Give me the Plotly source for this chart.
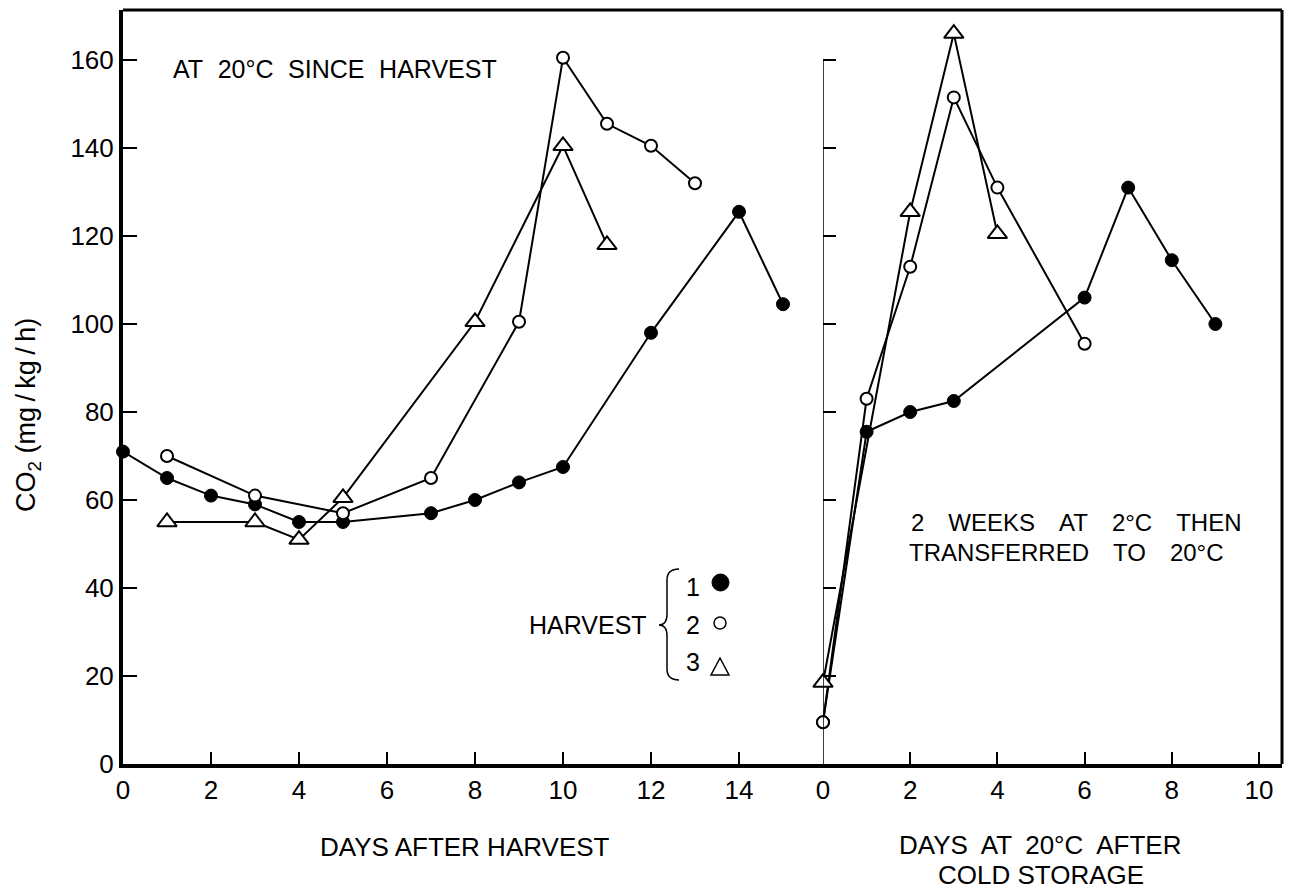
import plotly.graph_objects as go

# ---------------- data ----------------
# Left panel: days after harvest, held at 20 °C
h1_days = [0, 1, 2, 3, 4, 5, 7, 8, 9, 10, 12, 14, 15]
h1_co2 = [71, 65, 61, 59, 55, 55, 57, 60, 64, 67.5, 98, 125.5, 104.5]
h2_days = [1, 3, 5, 7, 9, 10, 11, 12, 13]
h2_co2 = [70, 61, 57, 65, 100.5, 160.5, 145.5, 140.5, 132]
h3_days = [1, 3, 4, 5, 8, 10, 11]
h3_co2 = [55, 55, 51, 60.5, 100.5, 140.5, 118]

# Right panel: days at 20 °C after 2 weeks at 2 °C
c1_days = [0, 1, 2, 3, 6, 7, 8, 9]
c1_co2 = [9.5, 75.5, 80, 82.5, 106, 131, 114.5, 100]
c2_days = [0, 1, 2, 3, 4, 6]
c2_co2 = [9.5, 83, 113, 151.5, 131, 95.5]
c3_days = [0, 2, 3, 4]
c3_co2 = [18.5, 125.5, 166, 120.5]

left_ticks = [0, 2, 4, 6, 8, 10, 12, 14]
right_ticks = [0, 2, 4, 6, 8, 10]
y_ticks = [0, 20, 40, 60, 80, 100, 120, 140, 160]
harvest_labels = ["1", "2", "3"]

FONT = "Liberation Sans, Arial, Helvetica, sans-serif"
W, H = 1291, 892
ML, MR, MT, MB = 123, 9, 10, 128
PW, PH = W - ML - MR, H - MT - MB


def px(xp):
    return (xp - ML) / PW


def py(yp):
    return (H - MB - yp) / PH


split = px(823)

fig = go.Figure()

filled = dict(symbol="circle", size=13, color="black", line=dict(color="black", width=1))
opencirc = dict(symbol="circle", size=12, color="white", line=dict(color="black", width=2))
tri = dict(symbol="triangle-up", size=17, color="white", line=dict(color="black", width=2))
ln = dict(color="black", width=2)

for xs, ys, mk, xa, ya in [
    (h1_days, h1_co2, filled, "x", "y"),
    (h2_days, h2_co2, opencirc, "x", "y"),
    (h3_days, h3_co2, tri, "x", "y"),
    (c1_days, c1_co2, filled, "x2", "y2"),
    (c2_days, c2_co2, opencirc, "x2", "y2"),
    (c3_days, c3_co2, tri, "x2", "y2"),
]:
    fig.add_trace(go.Scatter(x=xs, y=ys, mode="lines+markers", line=ln, marker=mk,
                             xaxis=xa, yaxis=ya, showlegend=False, cliponaxis=False))

axis_common = dict(ticks="inside", tickcolor="black", tickwidth=2, showgrid=False,
                   zeroline=False, tickfont=dict(family=FONT, size=26, color="black"))

fig.update_layout(
    width=W, height=H,
    margin=dict(l=ML, r=MR, t=MT, b=MB),
    paper_bgcolor="white", plot_bgcolor="white",
    font=dict(family=FONT, color="black"),
    xaxis=dict(domain=[0, split], range=[0, 700 / 44], tickvals=left_ticks, ticklen=12,
               showline=True, linecolor="black", linewidth=4, anchor="y", **axis_common),
    yaxis=dict(domain=[0, 1], range=[0, 754 / 4.4], tickvals=y_ticks, ticklen=14,
               showline=True, linecolor="black", linewidth=4, anchor="x", **axis_common),
    xaxis2=dict(domain=[split, 1], range=[0, 459 / 43.6], tickvals=right_ticks, ticklen=12,
                showline=True, linecolor="black", linewidth=4, anchor="y2", **axis_common),
    yaxis2=dict(domain=[0, 1], range=[0, 754 / 4.4], tickvals=y_ticks[1:], ticklen=13,
                showticklabels=False, showline=False, anchor="x2", **axis_common),
)

shapes = [
    dict(type="line", xref="paper", yref="paper", x0=0, x1=1, y0=1, y1=1,
         line=dict(color="black", width=3)),
    dict(type="line", xref="paper", yref="paper", x0=1, x1=1, y0=0, y1=1,
         line=dict(color="black", width=3)),
    dict(type="line", xref="x2", yref="y2", x0=0, x1=0, y0=0, y1=160,
         line=dict(color="black", width=1.5)),
]

# legend key: brace + symbols
bp = [(679, 569), (667, 569), (667, 580), (667, 614), (667, 625), (659, 625),
      (667, 625), (667, 636), (667, 669), (667, 680), (679, 680)]
c = [(px(a), py(b)) for a, b in bp]
path = ("M {0[0]},{0[1]} Q {1[0]},{1[1]} {2[0]},{2[1]} L {3[0]},{3[1]} "
        "Q {4[0]},{4[1]} {5[0]},{5[1]} Q {6[0]},{6[1]} {7[0]},{7[1]} L {8[0]},{8[1]} "
        "Q {9[0]},{9[1]} {10[0]},{10[1]}").format(*c)
shapes.append(dict(type="path", xref="paper", yref="paper", path=path,
                   line=dict(color="black", width=1.5)))
shapes.append(dict(type="circle", xref="paper", yref="paper",
                   x0=px(712), x1=px(729), y0=py(574), y1=py(591),
                   fillcolor="black", line=dict(color="black", width=1)))
shapes.append(dict(type="circle", xref="paper", yref="paper",
                   x0=px(714), x1=px(726), y0=py(617), y1=py(629),
                   fillcolor="white", line=dict(color="black", width=1.5)))
tp = [(720, 658), (711, 675), (729, 675)]
tc = [(px(a), py(b)) for a, b in tp]
shapes.append(dict(type="path", xref="paper", yref="paper",
                   path="M {0[0]},{0[1]} L {1[0]},{1[1]} L {2[0]},{2[1]} Z".format(*tc),
                   fillcolor="white", line=dict(color="black", width=1.5)))
fig.update_layout(shapes=shapes)

EN = "\u2002"
EM = "\u2003"
GAP = "\u2002\u200a"
ann = []


def A(text, x, y, xanchor="center", size=25, **kw):
    ann.append(dict(text=text, x=px(x), y=py(y), xref="paper", yref="paper",
                    xanchor=xanchor, yanchor="middle", showarrow=False,
                    font=dict(family=FONT, size=size, color="black"), **kw))


A(GAP.join(["AT", "20°C", "SINCE", "HARVEST"]), 171, 69, xanchor="left")
A(EM.join(["2", "WEEKS", "AT", "2°C", "THEN"]), 909, 522, xanchor="left", size=24)
A(EM.join(["TRANSFERRED", "TO", "20°C"]), 907, 552, xanchor="left", size=24)
A("HARVEST", 649, 625, xanchor="right")
for lab, yy in zip(harvest_labels, [587, 625, 662]):
    A(lab, 693, yy)
A("DAYS AFTER HARVEST", 465, 847, size=26)
A(EN.join(["DAYS", "AT", "20°C", "AFTER"]), 1040, 845, size=26)
A("COLD STORAGE", 1041, 875, size=26)
A("CO<sub>2</sub> (mg\u2009/\u2009kg\u2009/\u2009h)", 28, 415, size=27, textangle=-90)
fig.update_layout(annotations=ann)

fig.write_html("out.html")
